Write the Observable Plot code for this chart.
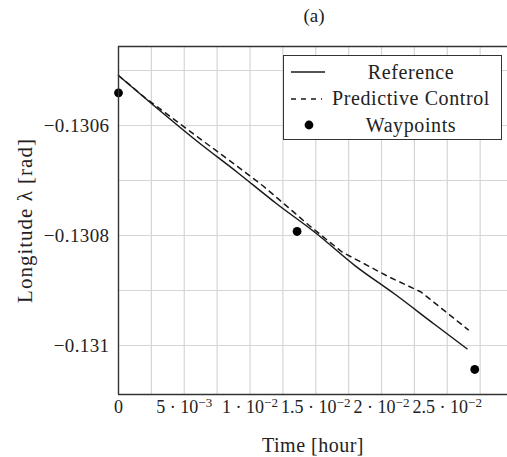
<!DOCTYPE html>
<html>
<head>
<meta charset="utf-8">
<script src="https://cdn.jsdelivr.net/npm/d3@7"></script>
<script src="https://cdn.jsdelivr.net/npm/@observablehq/plot@0.6"></script>
<style>
  body { margin: 0; background: #fff; }
  #chart { position: relative; width: 507px; height: 457px; font-family: "Liberation Serif", "Times New Roman", "DejaVu Serif", serif; color: #222; }
  #legend {
    position: absolute; left: 283px; top: 55px; width: 219px; height: 85px;
    box-sizing: border-box; border: 1.4px solid #333; background: #fff;
  }
  #legend .row { position: absolute; left: 0; width: 100%; height: 26px; display: flex; align-items: center; }
  #legend svg { width: 41px; height: 26px; flex: none; }
  #legend span { flex: 1; text-align: center; font-size: 20px; letter-spacing: 0.6px; padding-right: 4px; }
</style>
</head>
<body>
<div id="chart"></div>
<script>
// Reference longitude trajectory (time in hours, longitude in rad)
const refTime = [0, 0.003, 0.006, 0.009, 0.012, 0.015, 0.018, 0.021, 0.024, 0.0265];
const refLon = [-0.1305091, -0.1305700, -0.1306291, -0.1306845, -0.1307418, -0.1307955, -0.1308551, -0.1309064, -0.1309609, -0.1310060];

// Trajectory flown by the predictive controller
const mpcTime = [0, 0.002, 0.004, 0.007, 0.009, 0.011, 0.013, 0.0145, 0.017, 0.0205, 0.023, 0.0266];
const mpcLon = [-0.1305091, -0.1305491, -0.1305849, -0.1306382, -0.1306736, -0.1307100, -0.1307509, -0.1307818, -0.1308300, -0.1308745, -0.1309027, -0.1309715];

// Waypoints
const wpTime = [0, 0.01358, 0.02709];
const wpLon = [-0.1305405, -0.1307927, -0.1310436];

// Axes
const xDomain = [0, 0.02958];
const yDomain = [-0.1310891, -0.13045636];
const xTicks = [0, 0.005, 0.01, 0.015, 0.02, 0.025];
const xTickLabels = ["0", "5 · 10^−3", "1 · 10^−2", "1.5 · 10^−2", "2 · 10^−2", "2.5 · 10^−2"];
const yTicks = [-0.1306, -0.1308, -0.131];
const yTickLabels = ["−0.1306", "−0.1308", "−0.131"];
const xGrid = [0.0025, 0.005, 0.0075, 0.01, 0.0125, 0.015, 0.0175, 0.02, 0.0225, 0.025, 0.0275];
const yGrid = [-0.1305, -0.1306, -0.1307, -0.1308, -0.1309, -0.131];

const ref = refTime.map((t, i) => ({t, lon: refLon[i]}));
const mpc = mpcTime.map((t, i) => ({t, lon: mpcLon[i]}));
const wps = wpTime.map((t, i) => ({t, lon: wpLon[i]}));

const ink = "#1a1a1a";
const serif = '"Liberation Serif", "Times New Roman", "DejaVu Serif", serif';

const svg = Plot.plot({
  width: 507,
  height: 457,
  marginLeft: 118,
  marginRight: 0,
  marginTop: 46,
  marginBottom: 63,
  style: {fontFamily: serif, fontSize: "19px", color: "#222", background: "#fff"},
  x: {domain: xDomain},
  y: {domain: yDomain},
  marks: [
    Plot.gridX(xGrid, {stroke: "#d6d6d6", strokeOpacity: 1, strokeWidth: 1.2}),
    Plot.gridY(yGrid, {stroke: "#d6d6d6", strokeOpacity: 1, strokeWidth: 1.2}),
    Plot.axisX(xTicks, {
      tickSize: 0, tickPadding: 6,
      tickFormat: d => xTickLabels[xTicks.indexOf(d)],
      label: "Time [hour]", labelAnchor: "center", labelArrow: "none", labelOffset: 57,
      fontSize: 18
    }),
    Plot.axisY(yTicks, {
      tickSize: 0, tickPadding: 9,
      tickFormat: d => yTickLabels[yTicks.indexOf(d)],
      label: "Longitude λ [rad]", labelAnchor: "center", labelArrow: "none", labelOffset: 101,
      fontSize: 19
    }),
    Plot.line(ref, {x: "t", y: "lon", stroke: ink, strokeWidth: 1.5, curve: "monotone-x"}),
    Plot.line(mpc, {x: "t", y: "lon", stroke: ink, strokeWidth: 1.5, strokeDasharray: "5,5", curve: "linear"}),
    Plot.dot(wps, {x: "t", y: "lon", r: 4.4, fill: "#000", stroke: "none"}),
    Plot.ruleY([yDomain[0], yDomain[1]], {stroke: "#333", strokeWidth: 1.4}),
    Plot.ruleX([xDomain[0]], {stroke: "#333", strokeWidth: 1.4}),
    Plot.text(["(a)"], {text: d => d, frameAnchor: "top", dy: -31, dx: 1, lineAnchor: "middle", fontSize: 19, fill: "#222"})
  ]
});

// Axis label font size, and exponents as raised text on the time ticks
d3.select(svg).selectAll('g[aria-label="x-axis label"] text')
  .attr("font-size", 20).style("letter-spacing", "0.5px");
d3.select(svg).selectAll('g[aria-label="y-axis label"] text')
  .attr("font-size", 21).style("letter-spacing", "1px");
d3.select(svg).selectAll('g[aria-label="y-axis tick label"] text')
  .style("letter-spacing", "0.4px");
d3.select(svg).selectAll('g[aria-label="x-axis tick label"] text').each(function() {
  const s = this.textContent;
  if (!s.includes("^")) return;
  const [base, exp] = s.split("^");
  const el = d3.select(this);
  el.text(null);
  el.append("tspan").text(base);
  el.append("tspan").attr("dy", "-0.45em").attr("font-size", "13px").text(exp);
});

const chart = document.getElementById("chart");
chart.appendChild(svg);

// Legend box
const legend = document.createElement("div");
legend.id = "legend";
const rows = [
  {label: "Reference", swatch: '<line x1="7" x2="41" y1="13" y2="13" stroke="' + ink + '" stroke-width="1.5"/>'},
  {label: "Predictive Control", swatch: '<line x1="7" x2="38" y1="13" y2="13" stroke="' + ink + '" stroke-width="1.5" stroke-dasharray="5,5"/>'},
  {label: "Waypoints", swatch: '<circle cx="25" cy="13" r="4.4" fill="#000"/>'}
];
rows.forEach((r, i) => {
  const row = document.createElement("div");
  row.className = "row";
  row.style.top = (3 + i * 26.7) + "px";
  row.innerHTML = '<svg viewBox="0 0 41 26">' + r.swatch + '</svg><span>' + r.label + '</span>';
  legend.appendChild(row);
});
chart.appendChild(legend);
</script>
</body>
</html>
